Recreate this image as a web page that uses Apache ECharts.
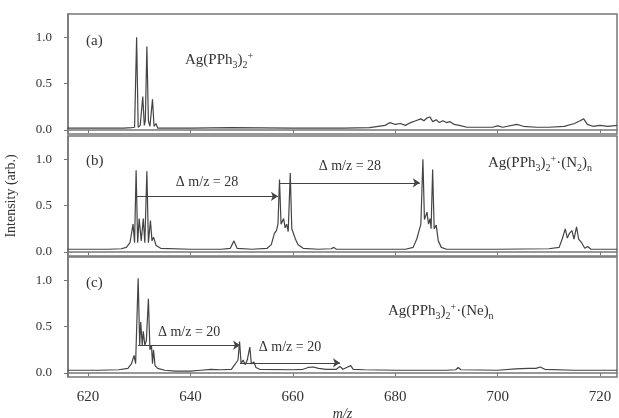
<!DOCTYPE html>
<html>
<head>
<meta charset="utf-8">
<script src="https://cdn.jsdelivr.net/npm/echarts@6/dist/echarts.min.js"></script>
<style>
  html, body { margin: 0; padding: 0; background: #fff; }
  #chart { width: 619px; height: 418px; }
</style>
</head>
<body>
<div id="chart"></div>
<script>
// m/z axis ticks and intensity ticks
const xTicks = [620, 640, 660, 680, 700, 720]
const yTicks = [0, 0.5, 1.0]

// (a) Ag(PPh3)2+  -- [m/z, intensity]
const specA = [
  [616, 0.02], [620, 0.02], [624, 0.02], [627, 0.02], [628.5, 0.025], [629.1, 0.03],
  [629.5, 1.0], [629.8, 0.03], [630.2, 0.05], [630.7, 0.36], [631.0, 0.05], [631.2, 0.1],
  [631.5, 0.9], [631.8, 0.1], [632.1, 0.04], [632.6, 0.33], [632.9, 0.04], [633.3, 0.07],
  [633.6, 0.02], [640, 0.02], [648, 0.025], [660, 0.02], [670, 0.02], [675, 0.025],
  [678, 0.05], [679, 0.08], [680, 0.06], [681, 0.07], [682, 0.05], [683, 0.08], [684, 0.1],
  [685, 0.12], [685.6, 0.1], [686.2, 0.13], [686.8, 0.14], [687.3, 0.09], [688, 0.11],
  [688.6, 0.08], [689.3, 0.1], [690, 0.08], [690.7, 0.09], [691.5, 0.06], [692.5, 0.05],
  [694, 0.03], [697, 0.03], [699, 0.03], [700, 0.045], [701, 0.03], [703.7, 0.06],
  [705, 0.04], [707.6, 0.03], [710, 0.03], [713, 0.04], [715, 0.07], [716.1, 0.1],
  [716.8, 0.12], [717.5, 0.06], [718.6, 0.04], [720, 0.05], [721.5, 0.04], [723.3, 0.05]
]

// (b) Ag(PPh3)2+ (N2)n
const specB = [
  [616, 0.03], [624, 0.03], [626.5, 0.035], [627.5, 0.05], [628.2, 0.1], [628.8, 0.3],
  [629.1, 0.1], [629.4, 0.88], [629.7, 0.1], [630.0, 0.36], [630.4, 0.12], [630.8, 0.36],
  [631.1, 0.1], [631.5, 0.87], [631.8, 0.1], [632.2, 0.34], [632.5, 0.12], [632.8, 0.16],
  [633.3, 0.07], [634.2, 0.04], [640, 0.03], [646, 0.03], [647.8, 0.04], [648.5, 0.12],
  [649.1, 0.04], [652, 0.03], [655, 0.04], [655.8, 0.08], [656.4, 0.2], [656.8, 0.23],
  [657.1, 0.3], [657.4, 0.78], [657.7, 0.3], [658.2, 0.36], [658.5, 0.26], [658.8, 0.3],
  [659.1, 0.22], [659.5, 0.85], [659.8, 0.25], [660.1, 0.27], [660.5, 0.14], [661, 0.08],
  [662, 0.04], [665, 0.03], [667.5, 0.035], [668, 0.05], [668.5, 0.03], [675, 0.03],
  [682, 0.03], [683.5, 0.05], [684.2, 0.14], [684.6, 0.22], [685.0, 0.3], [685.4, 1.0],
  [685.7, 0.35], [686.2, 0.43], [686.5, 0.3], [686.8, 0.36], [687.0, 0.25], [687.3, 0.89],
  [687.6, 0.25], [688.0, 0.29], [688.4, 0.12], [689, 0.05], [690, 0.03], [700, 0.03],
  [710, 0.035], [712, 0.05], [712.6, 0.14], [713.2, 0.25], [713.6, 0.15], [714.0, 0.2],
  [714.5, 0.23], [714.9, 0.14], [715.4, 0.27], [715.8, 0.14], [716.4, 0.1], [717, 0.04],
  [717.6, 0.06], [718.2, 0.03], [723.3, 0.03]
]

// (c) Ag(PPh3)2+ (Ne)n
const specC = [
  [616, 0.03], [622, 0.03], [626, 0.035], [627.8, 0.05], [628.5, 0.1], [629.0, 0.19],
  [629.3, 0.1], [629.8, 1.02], [630.1, 0.3], [630.3, 0.55], [630.6, 0.3], [630.8, 0.45],
  [631.1, 0.3], [631.4, 0.35], [631.8, 0.8], [632.1, 0.25], [632.4, 0.3], [632.6, 0.1],
  [632.8, 0.25], [633.1, 0.08], [633.6, 0.05], [635, 0.03], [637, 0.02], [640, 0.02],
  [642, 0.03], [644, 0.04], [646, 0.035], [648, 0.04], [648.8, 0.1], [649.3, 0.14],
  [649.6, 0.34], [649.9, 0.1], [650.3, 0.14], [650.7, 0.09], [651.1, 0.14], [651.6, 0.28],
  [651.9, 0.1], [652.4, 0.12], [652.8, 0.06], [653.5, 0.04], [660, 0.035], [662, 0.04],
  [663, 0.06], [664, 0.065], [665, 0.05], [666.5, 0.04], [668.5, 0.04], [669.2, 0.07],
  [669.8, 0.04], [670.5, 0.06], [671.3, 0.08], [671.8, 0.04], [674, 0.035], [680, 0.03],
  [690, 0.03], [691.8, 0.035], [692.3, 0.06], [692.8, 0.035], [700, 0.03], [703.5, 0.045],
  [706, 0.05], [707.5, 0.05], [708.3, 0.065], [709.2, 0.04], [715, 0.03], [723.3, 0.03]
]

// arrows: [fromMz, toMz, level, label]
const arrowsB = [[629.4, 657.1, 0.6, 'Δ m/z = 28'], [657.5, 684.8, 0.745, 'Δ m/z = 28']]
const arrowsC = [[629.8, 649.7, 0.3, 'Δ m/z = 20'], [649.7, 669.2, 0.11, 'Δ m/z = 20']]

const FONT = 'Liberation Serif'
const INK = '#333'
const tops = [14, 136, 257]

function arrowLines(list, gaps) {
  return {
    silent: true,
    animation: false,
    symbol: ['none', 'arrow'],
    symbolSize: 7,
    lineStyle: { type: 'solid', color: '#444', width: 1 },
    label: {
      show: true,
      position: 'middle',
      fontFamily: FONT,
      fontSize: 14,
      color: INK
    },
    data: list.map((a, i) => [
      { coord: [a[0], a[2]], label: { formatter: a[3], distance: gaps[i] } },
      { coord: [a[1], a[2]] }
    ])
  }
}

function speciesText(x, y, txt) {
  return {
    type: 'text',
    left: x,
    top: y,
    style: {
      text: txt,
      fill: INK,
      rich: {
        n: { fontFamily: FONT, fontSize: 15, lineHeight: 19 },
        s: { fontFamily: FONT, fontSize: 10, verticalAlign: 'bottom', lineHeight: 12 },
        p: { fontFamily: FONT, fontSize: 10, verticalAlign: 'top', lineHeight: 12 }
      }
    }
  }
}

const chart = echarts.init(document.getElementById('chart'))

const option = {
  animation: false,
  grid: tops.map(t => ({
    left: 68, right: 2, top: t, height: 120,
    outerBoundsMode: 'none',
    containLabel: false,
    show: true, borderColor: '#777', borderWidth: 1.5
  })),
  xAxis: tops.map((t, i) => ({
    type: 'value',
    gridIndex: i,
    min: 616.1,
    max: 723.3,
    axisLine: { lineStyle: { color: '#777', width: 1.5 } },
    axisTick: { customValues: xTicks, length: 3, lineStyle: { color: '#777' } },
    axisLabel: {
      show: i === 2,
      customValues: xTicks,
      margin: 13,
      fontFamily: FONT,
      fontSize: 15,
      color: INK
    },
    splitLine: { show: false },
    name: i === 2 ? 'm/z' : '',
    nameLocation: 'middle',
    nameGap: 30,
    nameTextStyle: { fontFamily: FONT, fontSize: 14, fontStyle: 'italic', color: INK }
  })),
  yAxis: tops.map((t, i) => ({
    type: 'value',
    gridIndex: i,
    min: -0.043,
    max: 1.25,
    axisLine: { show: true, lineStyle: { color: '#777', width: 1.5 } },
    axisTick: { show: true, customValues: yTicks, length: 4, lineStyle: { color: '#777' } },
    axisLabel: {
      customValues: yTicks,
      formatter: v => v.toFixed(1),
      margin: 16,
      fontFamily: FONT,
      fontSize: 13,
      color: INK
    },
    splitLine: { show: false },
    name: i === 1 ? 'Intensity (arb.)' : '',
    nameLocation: 'middle',
    nameGap: 50,
    nameTextStyle: { fontFamily: FONT, fontSize: 14, color: INK }
  })),
  series: [
    { type: 'line', xAxisIndex: 0, yAxisIndex: 0, data: specA },
    { type: 'line', xAxisIndex: 1, yAxisIndex: 1, data: specB, markLine: arrowLines(arrowsB, [7, 10]) },
    { type: 'line', xAxisIndex: 2, yAxisIndex: 2, data: specC, markLine: arrowLines(arrowsC, [6, 8]) }
  ].map(s => Object.assign(s, {
    showSymbol: false,
    symbol: 'none',
    lineStyle: { color: '#444', width: 1.2 },
    silent: true
  })),
  graphic: [
    { type: 'text', left: 86, top: 34, style: { text: '(a)', font: '15px ' + FONT, fill: INK } },
    { type: 'text', left: 86, top: 154, style: { text: '(b)', font: '15px ' + FONT, fill: INK } },
    { type: 'text', left: 86, top: 276, style: { text: '(c)', font: '15px ' + FONT, fill: INK } },
    speciesText(185, 51, '{n|Ag(PPh}{s|3}{n|)}{s|2}{p|+}'),
    speciesText(488, 154, '{n|Ag(PPh}{s|3}{n|)}{s|2}{p|+}{n|·(N}{s|2}{n|)}{s|n}'),
    speciesText(388, 302, '{n|Ag(PPh}{s|3}{n|)}{s|2}{p|+}{n|·(Ne)}{s|n}')
  ]
}

chart.setOption(option)
</script>
</body>
</html>
